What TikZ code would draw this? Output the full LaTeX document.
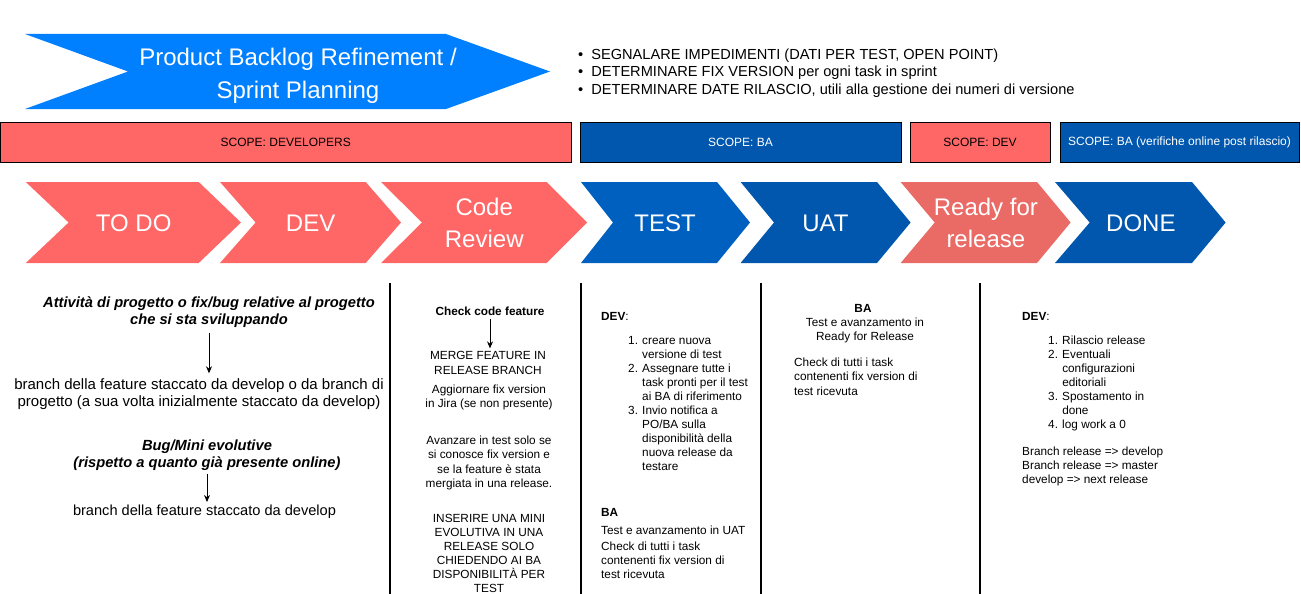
\documentclass[tikz,border=0pt]{standalone}
\usepackage{fontspec}
\setmainfont{Liberation Sans}
\usetikzlibrary{arrows.meta}
\definecolor{bannerblue}{HTML}{007FFF}
\definecolor{redc}{HTML}{FF6666}
\definecolor{darkblue}{HTML}{0057AD}
\definecolor{testblue}{HTML}{0060C0}
\definecolor{readyred}{HTML}{EA6B66}
\newcommand\mychev[7]{%
  \fill[#6] (#2,182) -- (#4,182) -- (#5,222.5) -- (#4,263) -- (#2,263) -- (#3,222.5) -- cycle;
  \node[chevtext] (#1) at ({(#3+#4)/2},223) {#7};}
\begin{document}
\begin{tikzpicture}[x=1pt,y=-1pt,
  chevtext/.style={text=white,font=\fontsize{24}{32}\selectfont,align=center,inner sep=0pt},
  scopebox/.style={draw=black,line width=1pt,minimum height=40pt,inner sep=0pt,font=\fontsize{12}{14}\selectfont},
  colA/.style={font=\fontsize{15}{17}\selectfont,align=center,inner sep=2pt},
  colAb/.style={font=\fontsize{14.7}{17}\selectfont\bfseries\itshape,align=center,inner sep=2pt},
  colB/.style={font=\fontsize{11.8}{14.5}\selectfont,align=center,inner sep=0pt},
  colL/.style={font=\fontsize{11.8}{14}\selectfont,align=left,inner sep=0pt,anchor=west},
  listnode/.style={font=\fontsize{11.8}{14}\selectfont,inner sep=0pt,anchor=north west},
  arr/.style={-{Stealth[length=7pt,width=6pt]},line width=0.9pt},
  sepline/.style={line width=1.1pt,black}]
\useasboundingbox (0,0) rectangle (1301,594);

% banner
\fill[bannerblue] (25,34) -- (446,34) -- (550,71.5) -- (446,109) -- (25,109) -- (128,71.5) -- cycle;
\node[text=white,font=\fontsize{24}{33}\selectfont,align=center,inner sep=0pt] (pbr) at (298,75.5) {Product Backlog Refinement /\\Sprint Planning};

% bullets
\node[anchor=west,inner sep=0pt,font=\fontsize{14.6}{17.5}\selectfont] (bul) at (578,73) {\begin{tabular}{@{}l@{\hspace{8pt}}l@{}}
\textbullet & SEGNALARE IMPEDIMENTI (DATI PER TEST, OPEN POINT)\\
\textbullet & DETERMINARE FIX VERSION per ogni task in sprint\\
\textbullet & DETERMINARE DATE RILASCIO, utili alla gestione dei numeri di versione
\end{tabular}};

% scope bars
\node[scopebox,fill=redc,text=black,minimum width=570.5pt] (s1) at (285.75,142) {SCOPE: DEVELOPERS};
\node[scopebox,fill=darkblue,text=white,minimum width=321pt] (s2) at (740.5,142) {SCOPE: BA};
\node[scopebox,fill=redc,text=black,minimum width=140pt] (s3) at (980,142) {SCOPE: DEV};
\node[scopebox,fill=darkblue,text=white,minimum width=239pt] (s4) at (1179.5,142) {SCOPE: BA (verifiche online post rilascio)};

% chevrons
\mychev{todo}{25.8}{68.6}{198.7}{241}{redc}{TO DO}
\mychev{dev}{220}{255.6}{365.7}{401}{redc}{DEV}
\mychev{cr}{381}{422}{546.5}{587}{redc}{Code\\Review}
\mychev{test}{581}{613}{717}{750}{testblue}{TEST}
\mychev{uat}{740.6}{774}{877}{910.6}{darkblue}{UAT}
\mychev{ready}{900.6}{934.7}{1037}{1070.6}{readyred}{Ready for\\release}
\mychev{done}{1055}{1089.7}{1192}{1225.6}{darkblue}{DONE}

% separators
\draw[sepline] (390,283) -- (390,594);
\draw[sepline] (581,283) -- (581,594);
\draw[sepline] (761,283) -- (761,594);
\draw[sepline] (980,283) -- (980,594);

% column 1
\node[colAb] (att) at (209,312.5) {Attività di progetto o fix/bug relative al progetto\\che si sta sviluppando};
\node[colA] (br1) at (199,394) {branch della feature staccato da develop o da branch di\\progetto (a sua volta inizialmente staccato da develop)};
\node[colAb] (bug) at (207,455.5) {Bug/Mini evolutive\\(rispetto a quanto già presente online)};
\node[colA,font=\fontsize{14.6}{17}\selectfont] (br2) at (204.5,512) {branch della feature staccato da develop};
\draw[arr,shorten <=3pt,shorten >=3pt] (att.south) -- (att.south |- br1.north);
\draw[arr,shorten <=1pt,shorten >=1pt] (bug.south) -- (bug.south |- br2.north);

% column 2
\node[colB,font=\fontsize{11.8}{14.5}\selectfont\bfseries] (chk) at (490,311) {Check code feature};
\node[colB] (merge) at (488,363) {MERGE FEATURE IN\\RELEASE BRANCH};
\draw[arr,shorten <=3pt,shorten >=3pt] (chk.south) -- (chk.south |- merge.north);
\node[colB] (agg) at (489,397.5) {Aggiornare fix version\\in Jira (se non presente)};
\node[colB,font=\fontsize{11.8}{14.6}\selectfont] (avz) at (489,463) {Avanzare in test solo se\\si conosce fix version e\\se la feature è stata\\mergiata in una release.};
\node[colB,font=\fontsize{11.8}{14}\selectfont] (ins) at (489,553) {INSERIRE UNA MINI\\EVOLUTIVA IN UNA\\RELEASE SOLO\\CHIEDENDO AI BA\\DISPONIBILITÀ PER\\TEST};

% column 3
\node[colL] (dev3) at (601,316) {\textbf{DEV}:};
\node[listnode] (l3) at (628,334.2) {\begin{tabular}[t]{@{}l@{\hspace{4.2pt}}l@{}}
1. & creare nuova\\
   & versione di test\\
2. & Assegnare tutte i\\
   & task pronti per il test\\
   & ai BA di riferimento\\
3. & Invio notifica a\\
   & PO/BA sulla\\
   & disponibilità della\\
   & nuova release da\\
   & testare
\end{tabular}};
\node[colL] (ba3) at (601,512) {\textbf{BA}};
\node[colL] (t3) at (601,530) {Test e avanzamento in UAT};
\node[colL] (c3) at (601,560) {Check di tutti i task\\contenenti fix version di\\test ricevuta};

% column 4
\node[colB,font=\fontsize{11.8}{14}\selectfont\bfseries] (ba4) at (863,308) {BA};
\node[colB,font=\fontsize{11.8}{14}\selectfont] (t4) at (865,330) {Test e avanzamento in\\Ready for Release};
\node[colL,font=\fontsize{11.8}{14.5}\selectfont] (c4) at (794,376.5) {Check di tutti i task\\contenenti fix version di\\test ricevuta};

% column 5
\node[colL] (dev5) at (1022,316) {\textbf{DEV}:};
\node[listnode] (l5) at (1048,334.2) {\begin{tabular}[t]{@{}l@{\hspace{4.2pt}}l@{}}
1. & Rilascio release\\
2. & Eventuali\\
   & configurazioni\\
   & editoriali\\
3. & Spostamento in\\
   & done\\
4. & log work a 0
\end{tabular}};
\node[colL] (br5) at (1022,466) {Branch release => develop\\Branch release => master\\develop => next release};
\end{tikzpicture}
\end{document}
